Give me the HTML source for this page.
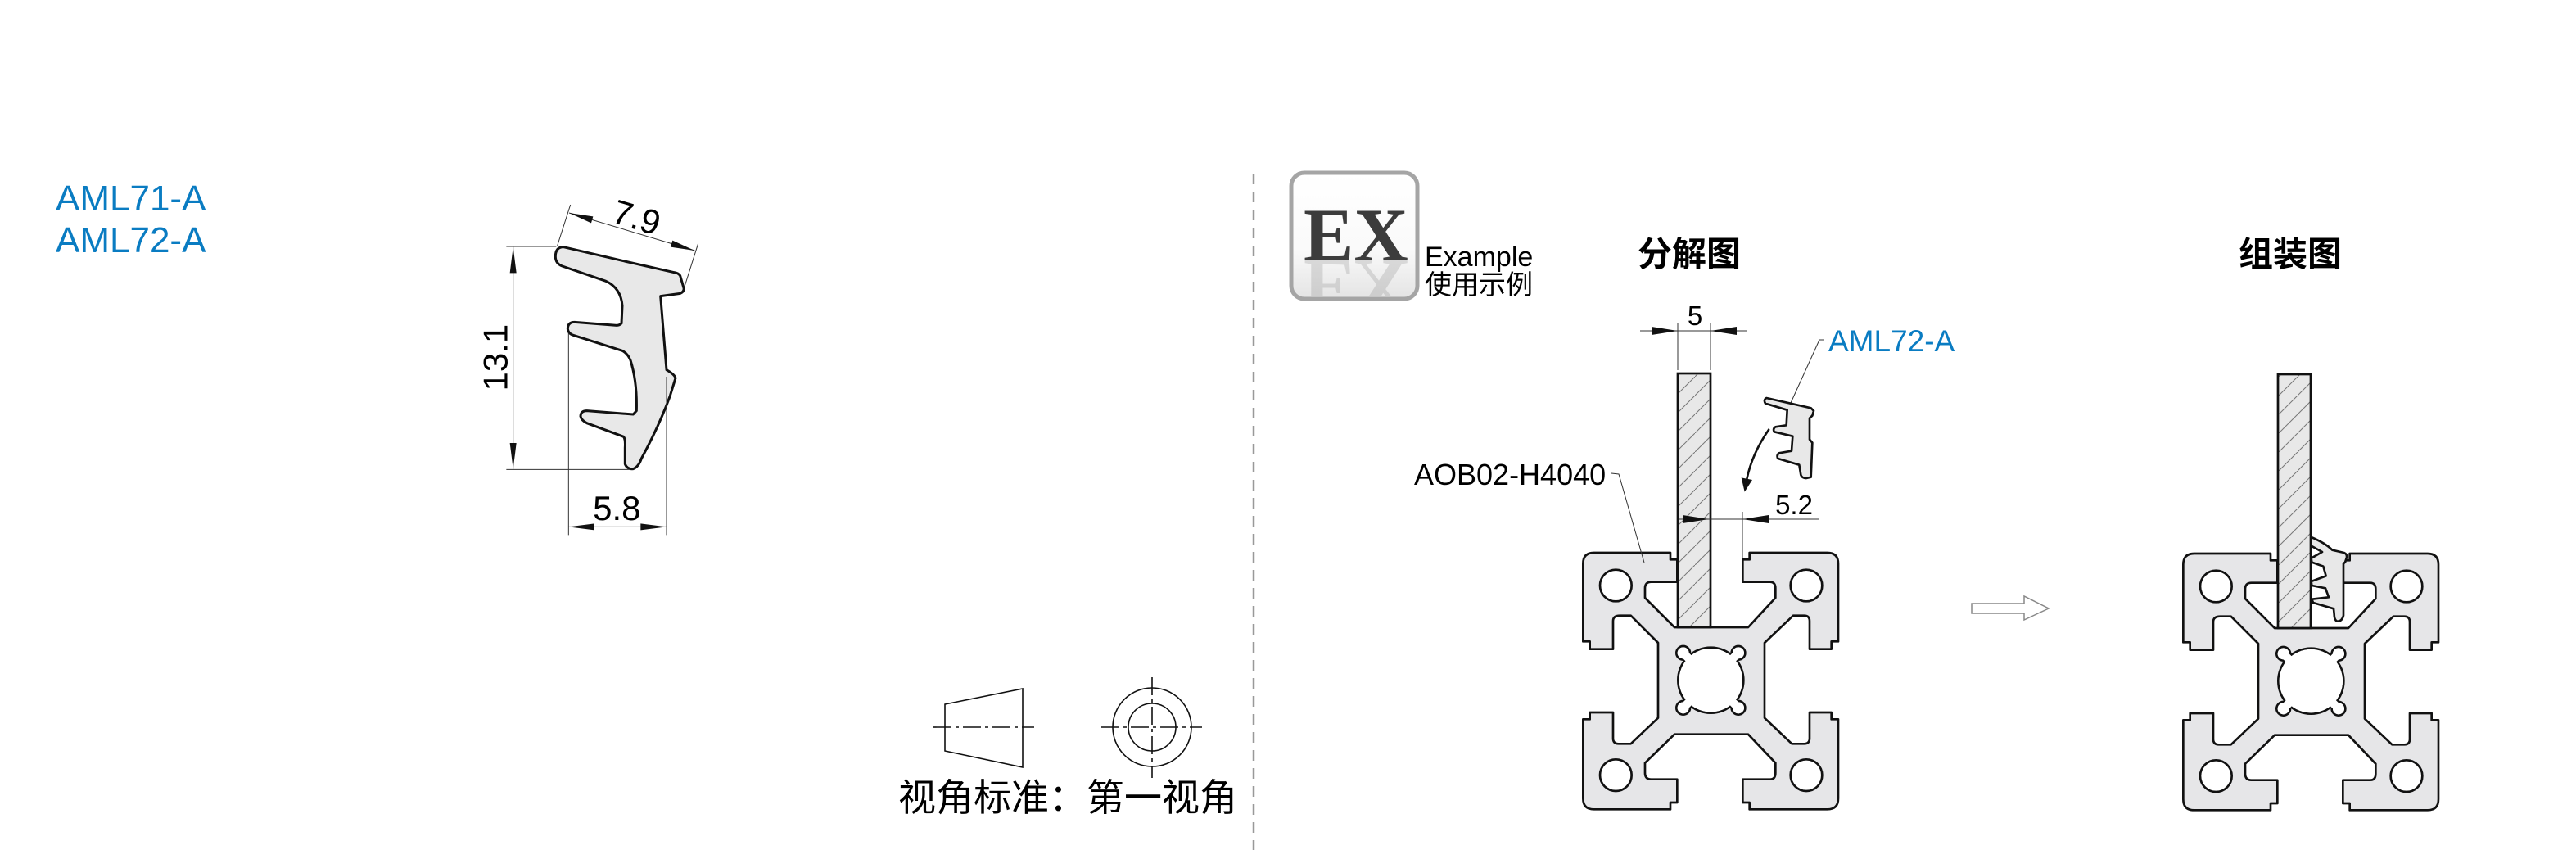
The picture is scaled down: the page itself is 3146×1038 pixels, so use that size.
<!DOCTYPE html>
<html><head><meta charset="utf-8"><style>html,body{margin:0;padding:0;background:#fff}svg{display:block}</style></head><body>
<svg width="3146" height="1038" viewBox="0 0 3146 1038" xmlns="http://www.w3.org/2000/svg" font-family="Liberation Sans, Noto Sans CJK SC, sans-serif">
<defs>
<pattern id="h" patternUnits="userSpaceOnUse" width="23" height="23"><rect width="23" height="23" fill="#e8e8e8"/><path d="M-2,25 L25,-2" stroke="#777" stroke-width="1"/></pattern>
<linearGradient id="eg" x1="0" y1="0" x2="0" y2="1"><stop offset="0" stop-color="#fff"/><stop offset="0.6" stop-color="#fafafa"/><stop offset="1" stop-color="#e4e4e4"/></linearGradient>
<clipPath id="boxclip"><rect x="1580" y="318" width="148" height="44"/></clipPath>
<g id="prof">
<path d="M110,105 L390,105 L390,130 L415,130 L415,212 L320,212 Q297,212 297,235 L297,270 L405,378 L675,378 L775,270 L775,235 Q775,212 755,212 L655,212 L655,130 L680,130 L680,105 L965,105 Q1005,105 1005,145 L1005,430 L980,430 L980,458 L900,458 L900,355 Q900,335 880,335 L840,335 L735,435 L735,710 L835,805 L880,805 Q900,805 900,785 L900,690 L980,690 L980,715 L1005,715 L1005,1005 Q1005,1045 965,1045 L680,1045 L680,1020 L655,1020 L655,935 L755,935 Q775,935 775,912 L775,875 L675,770 L405,770 L297,875 L297,912 Q297,935 320,935 L415,935 L415,1020 L390,1020 L390,1045 L110,1045 Q70,1045 70,1005 L70,715 L95,715 L95,690 L180,690 L180,785 Q180,805 200,805 L245,805 L345,710 L345,435 L245,335 L205,335 Q180,335 180,355 L180,458 L95,458 L95,430 L70,430 L70,145 Q70,105 110,105 Z" fill="#e6e6e8" stroke="#111" stroke-width="8" stroke-linejoin="round"/>
<g fill="#fff" stroke="#111" stroke-width="8">
<circle cx="190" cy="225" r="58"/><circle cx="888" cy="225" r="58"/><circle cx="190" cy="920" r="58"/><circle cx="888" cy="920" r="58"/>
<circle cx="538" cy="572" r="120"/>
<circle cx="437" cy="472" r="25"/><circle cx="639" cy="472" r="25"/><circle cx="437" cy="673" r="25"/><circle cx="639" cy="673" r="25"/>
</g>
<g fill="#fff">
<circle cx="538" cy="572" r="116"/>
<circle cx="437" cy="472" r="21"/><circle cx="639" cy="472" r="21"/><circle cx="437" cy="673" r="21"/><circle cx="639" cy="673" r="21"/>
<path d="M437,472 L480,515 M639,472 L596,515" stroke="#fff" stroke-width="30"/>
<path d="M437,673 L480,630 M639,673 L596,630" stroke="#fff" stroke-width="30"/>
</g>
</g>
</defs>

<text x="68" y="257" font-size="44" fill="#0a7cc2">AML71-A</text>
<text x="68" y="308" font-size="44" fill="#0a7cc2">AML72-A</text>

<g transform="translate(560,200) scale(0.33333)">
<path d="M385,305 Q355,305 355,340 Q355,365 380,375 L540,430 Q595,455 600,520 L597,585 Q590,592 580,592 L425,580 Q400,580 400,605 Q402,622 420,628 L600,685 Q620,695 630,720 Q655,800 652,905 L640,918 L470,905 Q448,905 447,925 Q450,940 470,950 L605,1000 Q612,1010 610,1040 L610,1100 Q618,1120 640,1118 Q660,1110 670,1080 Q735,960 775,850 L795,785 Q792,772 762,755 L740,485 L812,475 Q828,468 825,455 L812,410 Q805,400 790,398 L600,355 Z" fill="#e8e8e8" stroke="#111" stroke-width="9" stroke-linejoin="round"/>
<g stroke="#333" stroke-width="3" fill="none">
<path d="M175,303 L358,303 M175,1120 L630,1120 M200,305 L200,1118"/>
<path d="M410,150 L362,300 M878,292 L828,450 M405,180 L865,318"/>
<path d="M403,620 L403,1360 M762,780 L762,1360 M403,1330 L762,1330"/>
</g>
<g fill="#111">
<polygon points="200,305 188,400 212,400"/><polygon points="200,1118 188,1023 212,1023"/>
<polygon points="405,180 493,193 486,217"/><polygon points="865,318 777,305 784,281"/>
<polygon points="403,1330 498,1318 498,1342"/><polygon points="762,1330 667,1318 667,1342"/>
</g>
<text transform="translate(178,710) rotate(-90)" font-size="126" text-anchor="middle">13.1</text>
<text transform="translate(640,238) rotate(16.7)" font-size="126" text-anchor="middle">7.9</text>
<text x="580" y="1305" font-size="126" text-anchor="middle">5.8</text>
</g>

<g stroke="#111" stroke-width="1.6" fill="none">
<polygon points="1154,860 1249,841 1249,937 1154,917"/>
<path d="M1140,888 L1263,888" stroke-dasharray="22,5,4,5"/>
<circle cx="1407" cy="888" r="48"/><circle cx="1407" cy="888" r="29"/>
<path d="M1345,888 L1468,888 M1407,827 L1407,950" stroke-dasharray="22,5,4,5"/>
</g>
<text x="1097" y="990" font-size="46" font-family="Liberation Sans, Noto Sans CJK SC, sans-serif">视角标准：第一视角</text>

<line x1="1531" y1="212" x2="1531" y2="1038" stroke="#999" stroke-width="2.5" stroke-dasharray="13,9"/>

<rect x="1577" y="211" width="154" height="154" rx="16" fill="url(#eg)" stroke="#a5a5a5" stroke-width="5"/>
<g clip-path="url(#boxclip)"><g transform="translate(0,636) scale(1,-1)" opacity="0.25"><text x="1592" y="318" font-size="92" font-weight="bold" font-family="Liberation Serif, serif" fill="#888">EX</text></g></g>
<text x="1592" y="318" font-size="92" font-weight="bold" font-family="Liberation Serif, serif" fill="#3c3c3c">EX</text>
<text x="1740" y="325" font-size="34">Example</text>
<text x="1740" y="359" font-size="33">使用示例</text>

<text x="2063" y="325" font-size="42" font-weight="bold" text-anchor="middle">分解图</text>
<text x="2797" y="325" font-size="42" font-weight="bold" text-anchor="middle">组装图</text>

<use href="#prof" transform="translate(1910,640) scale(0.33333)"/>
<rect x="2049" y="456" width="40" height="310" fill="url(#h)" stroke="#111" stroke-width="2.7"/>
<g stroke="#333" stroke-width="1" fill="none">
<path d="M2003,404 L2133,404 M2049,395 L2049,452 M2089,395 L2089,452"/>
<path d="M2050,634 L2222,634 M2128,625 L2128,682"/>
<path d="M1968,578 L1977,579 L2008,687"/>
<path d="M2228,415 L2222,415 L2187,492"/>
</g>
<g fill="#111">
<polygon points="2049,404 2017,399 2017,409"/><polygon points="2089,404 2121,399 2121,409"/>
<polygon points="2087,634 2055,629 2055,639"/><polygon points="2128,634 2160,629 2160,639"/>
</g>
<text x="2070" y="397" font-size="33" text-anchor="middle">5</text>
<text x="2191" y="628" font-size="33" text-anchor="middle">5.2</text>
<text x="1727" y="592" font-size="36">AOB02-H4040</text>
<text x="2233" y="429" font-size="37" fill="#0a7cc2">AML72-A</text>
<g transform="translate(2100,380) scale(0.33333)">
<path d="M172,318 Q160,325 168,338 L248,362 L245,418 L205,424 Q195,430 200,442 L268,458 L264,512 L218,520 Q208,528 214,540 L292,563 L298,600 Q302,612 318,612 L335,608 L340,482 L330,470 L330,392 L340,383 L345,365 L335,355 Z" fill="#e8e8e8" stroke="#111" stroke-width="8" stroke-linejoin="round"/>
<path d="M182,432 Q120,520 100,615" fill="none" stroke="#111" stroke-width="8"/>
<polygon points="80,610 120,618 92,662" fill="#111"/>
</g>

<polygon points="2408,737 2472,737 2472,728 2502,743 2472,757 2472,749 2408,749" fill="#fff" stroke="#888" stroke-width="1.5"/>

<use href="#prof" transform="translate(2643,641) scale(0.33333)"/>
<rect x="2782" y="457" width="40" height="310" fill="url(#h)" stroke="#111" stroke-width="2.7"/>
<g transform="translate(2640,270) scale(0.33333)">
<path d="M548,1158 Q600,1180 625,1205 L668,1215 Q680,1220 678,1232 L672,1250 L666,1255 L666,1445 Q660,1468 642,1466 Q632,1460 632,1440 L630,1420 L555,1398 L550,1385 L612,1378 L600,1345 L550,1335 L548,1320 L602,1300 L592,1265 L550,1250 L548,1235 L588,1212 L548,1190 Z" fill="#e8e8e8" stroke="#111" stroke-width="8" stroke-linejoin="round"/>
</g>
</svg>
</body></html>
